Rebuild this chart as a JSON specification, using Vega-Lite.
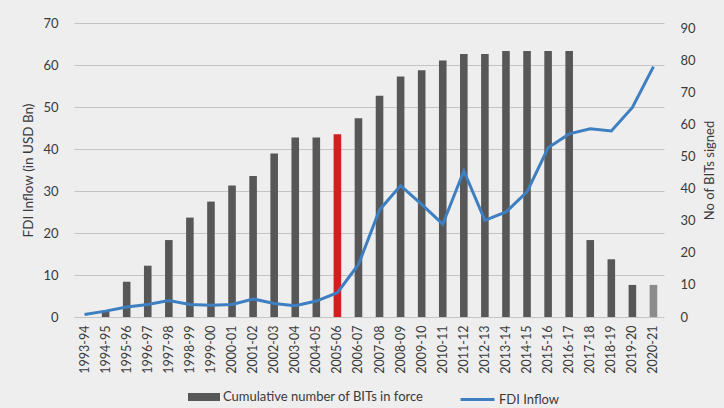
{
  "$schema": "https://vega.github.io/schema/vega-lite/v6.json",
  "width": 590,
  "height": 294,
  "autosize": {"type": "none"},
  "padding": {"left": 74, "top": 23, "right": 60, "bottom": 91},
  "background": "#eeeeee",
  "config": {
    "view": {"stroke": null},
    "font": "Lato",
    "axis": {"labelColor": "#3a3a3a", "titleColor": "#3a3a3a", "labelFont": "Lato", "titleFont": "Lato"},
    "legend": {"labelFont": "Lato", "labelColor": "#3a3a3a", "labelFontSize": 13, "labelLimit": 400}
  },
  "data": {
    "values": [
      {"period": "1993-94", "bits": 0, "fdi": 0.6, "status": "normal"},
      {"period": "1994-95", "bits": 2, "fdi": 1.4, "status": "normal"},
      {"period": "1995-96", "bits": 11, "fdi": 2.4, "status": "normal"},
      {"period": "1996-97", "bits": 16, "fdi": 3.0, "status": "normal"},
      {"period": "1997-98", "bits": 24, "fdi": 3.9, "status": "normal"},
      {"period": "1998-99", "bits": 31, "fdi": 3.0, "status": "normal"},
      {"period": "1999-00", "bits": 36, "fdi": 2.8, "status": "normal"},
      {"period": "2000-01", "bits": 41, "fdi": 3.0, "status": "normal"},
      {"period": "2001-02", "bits": 44, "fdi": 4.3, "status": "normal"},
      {"period": "2002-03", "bits": 51, "fdi": 3.2, "status": "normal"},
      {"period": "2003-04", "bits": 56, "fdi": 2.7, "status": "normal"},
      {"period": "2004-05", "bits": 56, "fdi": 3.8, "status": "normal"},
      {"period": "2005-06", "bits": 57, "fdi": 5.8, "status": "highlight"},
      {"period": "2006-07", "bits": 62, "fdi": 12.5, "status": "normal"},
      {"period": "2007-08", "bits": 69, "fdi": 25.5, "status": "normal"},
      {"period": "2008-09", "bits": 75, "fdi": 31.3, "status": "normal"},
      {"period": "2009-10", "bits": 77, "fdi": 26.8, "status": "normal"},
      {"period": "2010-11", "bits": 80, "fdi": 22.1, "status": "normal"},
      {"period": "2011-12", "bits": 82, "fdi": 34.8, "status": "normal"},
      {"period": "2012-13", "bits": 82, "fdi": 23.0, "status": "normal"},
      {"period": "2013-14", "bits": 83, "fdi": 25.0, "status": "normal"},
      {"period": "2014-15", "bits": 83, "fdi": 29.8, "status": "normal"},
      {"period": "2015-16", "bits": 83, "fdi": 40.3, "status": "normal"},
      {"period": "2016-17", "bits": 83, "fdi": 43.6, "status": "normal"},
      {"period": "2017-18", "bits": 24, "fdi": 44.8, "status": "normal"},
      {"period": "2018-19", "bits": 18, "fdi": 44.3, "status": "normal"},
      {"period": "2019-20", "bits": 10, "fdi": 49.9, "status": "normal"},
      {"period": "2020-21", "bits": 10, "fdi": 59.6, "status": "faded"}
    ]
  },
  "encoding": {
    "x": {
      "field": "period",
      "type": "ordinal",
      "sort": null,
      "scale": {"paddingInner": 0.64, "paddingOuter": 0.32},
      "axis": {"title": null, "labelAngle": -90, "ticks": false, "domain": false, "labelPadding": 8, "labelFontSize": 12.5}
    }
  },
  "layer": [
    {
      "mark": {"type": "bar"},
      "encoding": {
        "y": {
          "field": "bits",
          "type": "quantitative",
          "scale": {"domain": [0, 91.7], "nice": false},
          "axis": {
            "orient": "right",
            "title": "No of BITs signed",
            "titleAngle": 270,
            "titleFontSize": 13,
            "titleFontWeight": "normal",
            "titlePadding": 21,
            "values": [0, 10, 20, 30, 40, 50, 60, 70, 80, 90],
            "grid": false,
            "ticks": false,
            "domain": false,
            "labelPadding": 16,
            "labelFontSize": 13
          }
        },
        "fill": {
          "datum": "Cumulative number of BITs in force",
          "type": "nominal",
          "condition": [
            {"test": "datum.status === 'highlight'", "value": "#d11f1f"},
            {"test": "datum.status === 'faded'", "value": "#8c8c8c"}
          ],
          "scale": {"range": ["#575757"]},
          "legend": {
            "title": null,
            "orient": "none",
            "legendX": 114,
            "legendY": 358,
            "symbolType": "M-1,-0.25H1V0.25H-1Z",
            "symbolSize": 1024,
            "symbolStrokeWidth": 0,
            "labelOffset": 3
          }
        }
      }
    },
    {
      "mark": {"type": "line", "strokeWidth": 3},
      "encoding": {
        "y": {
          "field": "fdi",
          "type": "quantitative",
          "scale": {"domain": [0, 70], "nice": false},
          "axis": {
            "orient": "left",
            "title": "FDI Inflow (in USD Bn)",
            "titleFontSize": 13.5,
            "titleFontWeight": "normal",
            "titlePadding": 7,
            "values": [0, 10, 20, 30, 40, 50, 60, 70],
            "grid": true,
            "gridColor": "#c4c4c4",
            "gridWidth": 1,
            "ticks": false,
            "domain": false,
            "labelPadding": 16,
            "labelFontSize": 13
          }
        },
        "stroke": {
          "datum": "FDI Inflow",
          "type": "nominal",
          "scale": {"range": ["#3d7fc0"]},
          "legend": {
            "title": null,
            "orient": "none",
            "legendX": 385,
            "legendY": 358,
            "symbolType": "stroke",
            "symbolSize": 1156,
            "symbolStrokeWidth": 3,
            "labelOffset": 3
          }
        }
      }
    }
  ],
  "resolve": {"scale": {"y": "independent", "fill": "independent", "stroke": "independent"}}
}
